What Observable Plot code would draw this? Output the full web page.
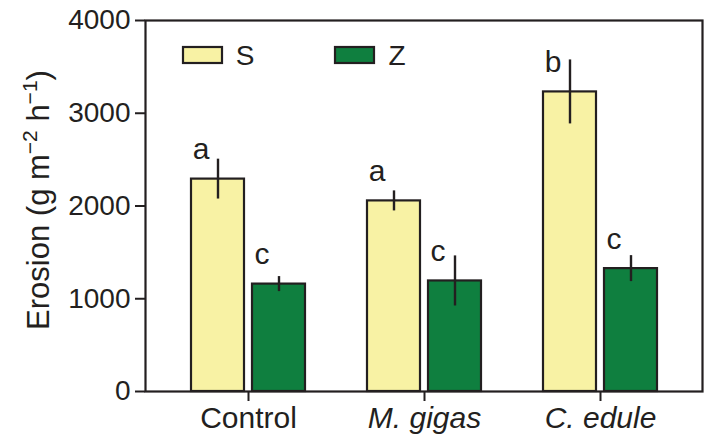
<!DOCTYPE html>
<html>
<head>
<meta charset="utf-8">
<script src="https://cdn.jsdelivr.net/npm/d3@7"></script>
<script src="https://cdn.jsdelivr.net/npm/@observablehq/plot@0.6"></script>
<style>
  html, body { margin: 0; padding: 0; background: #fff; }
  #chart { width: 712px; height: 441px; }
</style>
</head>
<body>
<div id="chart"></div>
<script>
const categories = ["Control", "M. gigas", "C. edule"];
const seriesNames = ["S", "Z"];
const sValues = [2290, 2055, 3230];
const sErrors = [215, 108, 345];
const zValues = [1158, 1192, 1325];
const zErrors = [81, 270, 140];
const sLetters = ["a", "a", "b"];
const zLetters = ["c", "c", "c"];
const yTicks = [0, 1000, 2000, 3000, 4000];

const ink = "#231f20";
const colors = ["#f8f2a4", "#0f7f3f"];
const font = "'Liberation Sans', Arial, Helvetica, sans-serif";

const sData = categories.map((c, i) => ({cat: c, series: "S", value: sValues[i], err: sErrors[i], letter: sLetters[i]}));
const zData = categories.map((c, i) => ({cat: c, series: "Z", value: zValues[i], err: zErrors[i], letter: zLetters[i]}));

// group band is 114px wide: each bar 53px, 8px gap
const barShift = 30.5;
const barInset = 61;

function seriesMarks(rows, side) {
  const shift = side * barShift;
  return [
    Plot.barY(rows, {x: "cat", y: "value", fill: "series",
      insetLeft: side > 0 ? barInset : 0, insetRight: side < 0 ? barInset : 0,
      stroke: ink, strokeWidth: 2.2}),
    Plot.ruleX(rows, {x: "cat", y1: d => d.value - d.err, y2: d => d.value + d.err, dx: shift, stroke: ink, strokeWidth: 2.4}),
    Plot.text(rows, {x: "cat", y: "value", text: "letter", dx: shift - 17, dy: -20, lineAnchor: "bottom", fill: ink, fontSize: 30})
  ];
}

const chart = Plot.plot({
  width: 712,
  height: 441,
  marginTop: 20,
  marginBottom: 50,
  marginLeft: 145,
  marginRight: 10,
  style: {fontFamily: font, fontSize: "28px", color: ink, background: "#fff"},
  x: {domain: categories, paddingInner: 0.354, paddingOuter: 0.255, label: null},
  y: {domain: [0, 4000], label: null},
  color: {domain: seriesNames, range: colors},
  marks: [
    ...seriesMarks(sData, -1),
    ...seriesMarks(zData, 1),
    Plot.frame({stroke: ink, strokeWidth: 2.2}),
    Plot.axisY({ticks: yTicks, tickFormat: d3.format("d"), tickSize: 10, tickPadding: 5, strokeWidth: 2, stroke: ink, fill: ink, fontSize: 28, label: null}),
    Plot.axisX({ticks: ["Control"], tickSize: 10, tickPadding: 5, strokeWidth: 2, stroke: ink, fill: ink, fontSize: 30, label: null}),
    Plot.axisX({ticks: ["M. gigas", "C. edule"], tickSize: 10, tickPadding: 5, strokeWidth: 2, stroke: ink, fill: ink, fontSize: 30, fontStyle: "italic", label: null})
  ]
});

document.getElementById("chart").appendChild(chart);

// Legend and y-axis title
const svg = d3.select(chart);
const legend = svg.append("g").attr("font-family", font).attr("font-size", 28).attr("fill", ink);
const legendItems = [{name: "S", x: 183, color: colors[0]}, {name: "Z", x: 335, color: colors[1]}];
legendItems.forEach(item => {
  legend.append("rect").attr("x", item.x).attr("y", 47).attr("width", 39).attr("height", 16)
    .attr("fill", item.color).attr("stroke", ink).attr("stroke-width", 2.2);
  legend.append("text").attr("x", item.x + 62).attr("y", 65).text(item.name);
});

const title = svg.append("text")
  .attr("transform", "translate(49,200) rotate(-90)")
  .attr("text-anchor", "middle")
  .attr("font-family", font).attr("font-size", 31).attr("fill", ink);
title.append("tspan").text("Erosion (g m");
title.append("tspan").attr("font-size", 21).attr("dy", -12).text("\u22122");
title.append("tspan").attr("dy", 12).text(" h");
title.append("tspan").attr("font-size", 21).attr("dy", -12).text("\u22121");
title.append("tspan").attr("dy", 12).text(")");
</script>
</body>
</html>
